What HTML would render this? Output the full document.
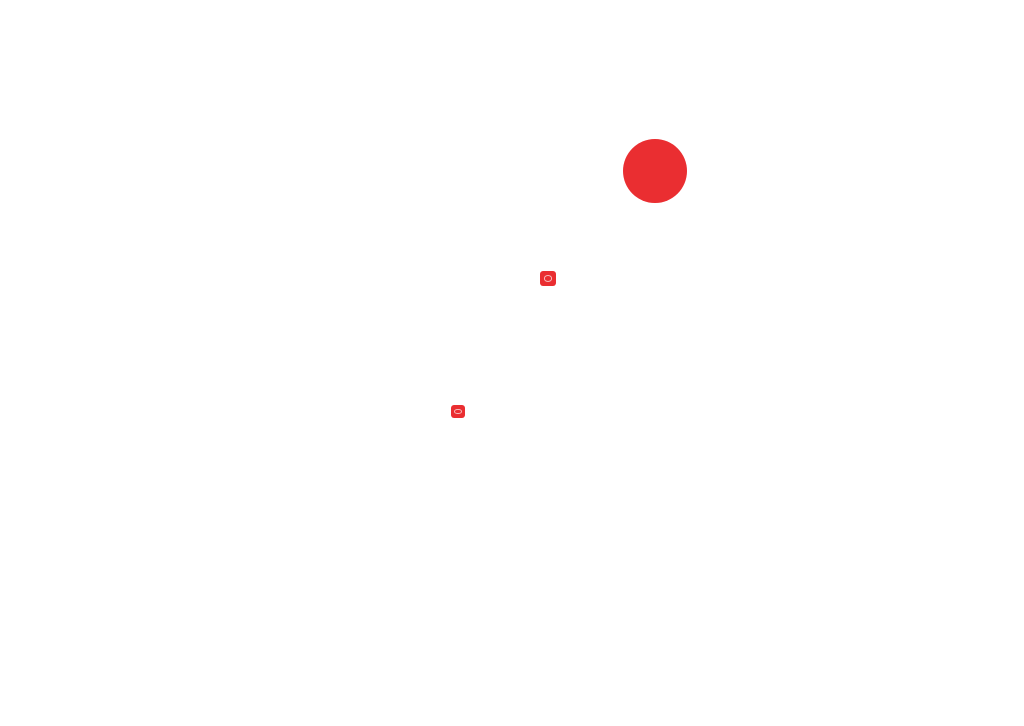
<!DOCTYPE html>
<html><head><meta charset="utf-8"><style>
html,body{margin:0;padding:0;background:#fff;}
body{width:1024px;height:726px;position:relative;overflow:hidden;}
.dot{position:absolute;left:623px;top:139px;width:64px;height:64px;border-radius:50%;background:#ea2e31;}
.ic{position:absolute;background:#ea2e31;border-radius:3px;}
.ic::after{content:"";position:absolute;left:22%;top:28%;width:56%;height:44%;border:1px solid #f7b9ba;border-radius:50%;box-sizing:border-box;}
</style></head><body>
<div class="dot"></div>
<div class="ic" style="left:540px;top:271px;width:16px;height:15px;"></div>
<div class="ic" style="left:451px;top:405px;width:14px;height:13px;"></div>
</body></html>
